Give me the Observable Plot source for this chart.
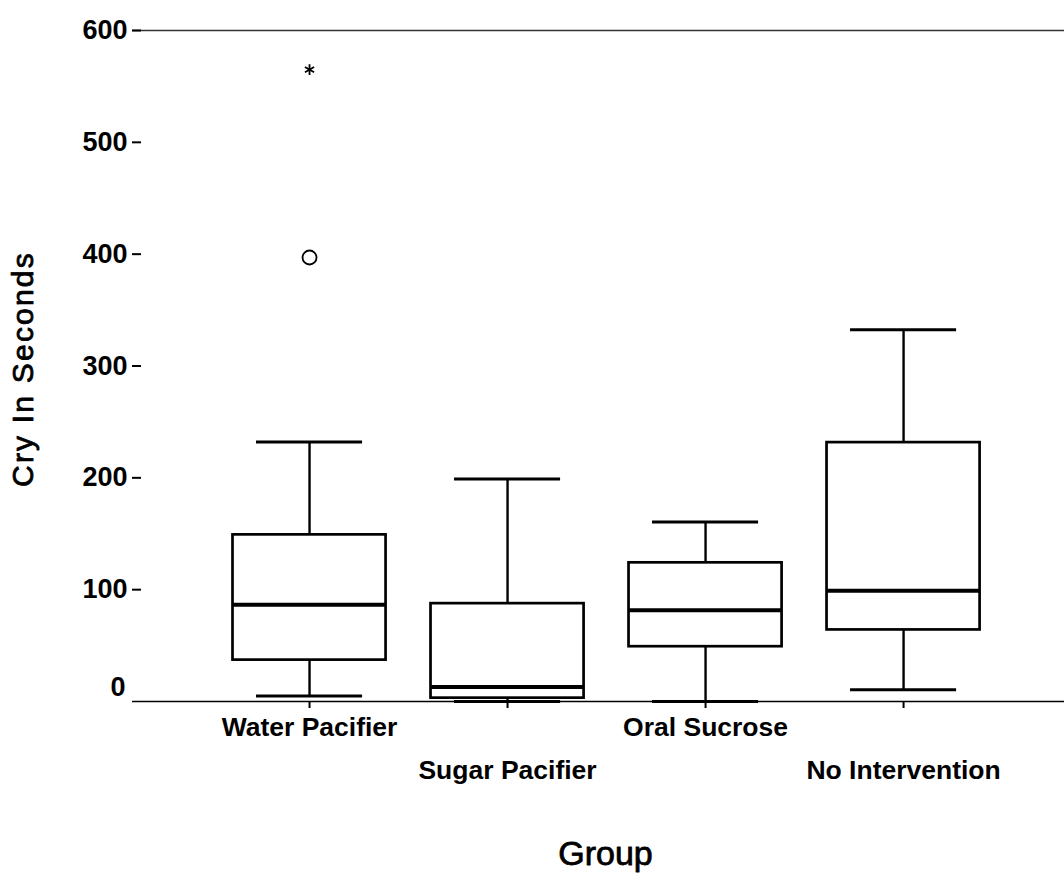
<!DOCTYPE html>
<html>
<head>
<meta charset="utf-8">
<script src="https://cdn.jsdelivr.net/npm/d3@7"></script>
<script src="https://cdn.jsdelivr.net/npm/@observablehq/plot@0.6"></script>
<style>
  html, body { margin: 0; padding: 0; background: #fff; }
  #chart svg { display: block; }
</style>
</head>
<body>
<div id="chart"></div>
<script>
// Categories (x axis, in order)
const groups = ["Water Pacifier", "Sugar Pacifier", "Oral Sucrose", "No Intervention"];
// Box-plot summary values (seconds)
const whiskerLow  = [5,   0,    0,     10.5];
const q1          = [37,  3,    49,    64];
const median      = [86.5, 13,  81.5,  99];
const q3          = [149, 87.5, 124,   231.5];
const whiskerHigh = [232, 199,  160.5, 332.5];
// Outliers
const outlierGroup = ["Water Pacifier"];
const outlierValue = [397];
const extremeGroup = ["Water Pacifier"];
const extremeValue = [565];
// Axis ticks
const yTicks = [100, 200, 300, 400, 500, 600];
const zeroLabel = ["0"];

const boxes = groups.map((g, i) => ({
  group: g, lo: whiskerLow[i], q1: q1[i], med: median[i], q3: q3[i], hi: whiskerHigh[i]
}));
const outliers = outlierGroup.map((g, i) => ({group: g, value: outlierValue[i]}));
const extremes = extremeGroup.map((g, i) => ({group: g, value: extremeValue[i]}));

const font = "'Liberation Sans', Arial, sans-serif";
const capInset = 23.5;

const chart = Plot.plot({
  width: 1064,
  height: 874,
  marginLeft: 132,
  marginRight: 0,
  marginTop: 30,
  marginBottom: 173,
  style: {fontFamily: font, color: "#000", background: "#fff", overflow: "hidden"},
  x: {type: "band", domain: groups, range: [133.5, 1078.6], paddingInner: 0.227, paddingOuter: 0.5, round: false},
  y: {domain: [0, 600]},
  marks: [
    // frame lines
    Plot.ruleY([600], {stroke: "#333", strokeWidth: 1.3}),
    Plot.ruleY([0], {stroke: "#000", strokeWidth: 1.6}),
    // axes
    Plot.axisY({
      ticks: yTicks, tickSize: 9, tickPadding: 5, dx: 9, strokeWidth: 2,
      label: null, fontSize: 27, fontWeight: "bold", fontFamily: font
    }),
    Plot.text(zeroLabel, {y: [0], text: d => d, frameAnchor: "left", textAnchor: "end", dx: -7, dy: -14,
      fontSize: 27, fontWeight: "bold", fontFamily: font, fill: "#000"}),
    Plot.axisX({tickSize: 7, tickFormat: () => "", label: null, strokeWidth: 2}),
    // whiskers
    Plot.ruleX(boxes, {x: "group", y1: "lo", y2: "q1", stroke: "#000", strokeWidth: 2.4}),
    Plot.ruleX(boxes, {x: "group", y1: "q3", y2: "hi", stroke: "#000", strokeWidth: 2.4}),
    Plot.tickY(boxes, {x: "group", y: "lo", insetLeft: capInset, insetRight: capInset, stroke: "#000", strokeWidth: 3}),
    Plot.tickY(boxes, {x: "group", y: "hi", insetLeft: capInset, insetRight: capInset, stroke: "#000", strokeWidth: 3}),
    // boxes
    Plot.barY(boxes, {x: "group", y1: "q1", y2: "q3", fill: "#fff", stroke: "#000", strokeWidth: 2.7}),
    Plot.tickY(boxes, {x: "group", y: "med", stroke: "#000", strokeWidth: 4}),
    // outliers
    Plot.dot(outliers, {x: "group", y: "value", r: 7, stroke: "#000", strokeWidth: 1.8, fill: "none"}),
    Plot.dot(extremes, {x: "group", y: "value", r: 5, symbol: "asterisk", stroke: "#000", strokeWidth: 1.8}),
    // x tick labels, alternating rows
    Plot.text(groups.filter((d, i) => i % 2 === 0), {x: d => d, text: d => d, frameAnchor: "bottom", lineAnchor: "top", dy: 16,
      fontSize: 26.5, fontWeight: "bold", fontFamily: font, fill: "#000"}),
    Plot.text(groups.filter((d, i) => i % 2 === 1), {x: d => d, text: d => d, frameAnchor: "bottom", lineAnchor: "top", dy: 59,
      fontSize: 26.5, fontWeight: "bold", fontFamily: font, fill: "#000"}),
    // axis titles
    Plot.text(["Group"], {text: d => d, frameAnchor: "bottom", lineAnchor: "top", textAnchor: "middle", dx: 7, dy: 139,
      fontSize: 34, fontFamily: font, fill: "#000", stroke: "#000", strokeWidth: 0.8}),
    Plot.text(["Cry In Seconds"], {text: d => d, frameAnchor: "left", lineAnchor: "middle", textAnchor: "middle", dx: -109, dy: 3, rotate: -90,
      fontSize: 30, fontFamily: font, fill: "#000", stroke: "#000", strokeWidth: 0.8})
  ]
});

d3.select(chart).selectAll("text").filter(function() { return this.textContent === "Cry In Seconds"; })
  .attr("letter-spacing", "2.2px");

document.getElementById("chart").appendChild(chart);
</script>
</body>
</html>
